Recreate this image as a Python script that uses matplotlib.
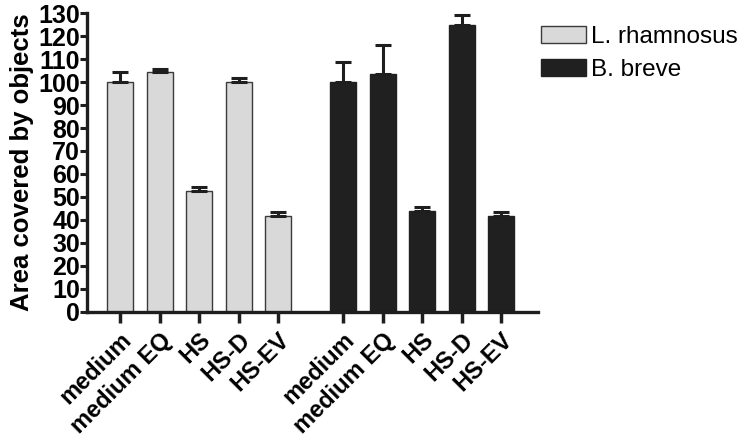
import numpy as np
import matplotlib
matplotlib.use('Agg')
import matplotlib.pyplot as plt

plt.rcParams['font.family'] = ['Liberation Sans', 'DejaVu Sans']

conditions = ['medium', 'medium EQ', 'HS', 'HS-D', 'HS-EV']
rhamnosus_mean = [100, 104.2, 52.4, 99.9, 41.6]
rhamnosus_sem = [4.6, 1.6, 2.1, 1.7, 1.8]
breve_mean = [100, 103.7, 44.0, 124.8, 41.6]
breve_sem = [8.8, 12.3, 1.4, 4.6, 1.9]

fig = plt.figure(figsize=(7.45, 4.37), dpi=100)
ax = fig.add_axes([0.1168, 0.2867, 0.605, 0.683])

gap = 0.65
x1 = np.arange(len(conditions))
x2 = x1 + len(conditions) + gap
width = 0.66

err_kw = dict(ecolor='#1e1e1e', elinewidth=2.2, capsize=6, capthick=2.2)
ax.bar(x1, rhamnosus_mean, width, color='#d9d9d9', edgecolor='#3a3a3a',
       linewidth=1, label='L. rhamnosus',
       yerr=[np.zeros(5), rhamnosus_sem], error_kw=err_kw, zorder=2)
ax.bar(x2, breve_mean, width, color='#202020', edgecolor='#202020',
       linewidth=1, label='B. breve',
       yerr=[np.zeros(5), breve_sem], error_kw=err_kw, zorder=2)

ax.set_xlim(-0.84, x2[-1] + 0.93)
ax.set_ylim(0, 130)
ax.set_yticks(range(0, 131, 10))
ax.set_xticks(np.concatenate([x1, x2]))
ax.set_xticklabels(conditions + conditions, rotation=45, ha='right',
                   rotation_mode='anchor', fontsize=17, fontweight='bold')
for lab in ax.get_yticklabels():
    lab.set_fontsize(18)
    lab.set_fontweight('bold')
ax.tick_params(axis='y', length=5, width=2.2, pad=0, color='#1e1e1e')
ax.tick_params(axis='x', length=8, width=2.5, pad=4, color='#1e1e1e')

ax.set_ylabel('Area covered by objects', fontsize=18.5, fontweight='bold',
              labelpad=3)
for side in ['top', 'right']:
    ax.spines[side].set_visible(False)
for side in ['left', 'bottom']:
    ax.spines[side].set_linewidth(2.4)
    ax.spines[side].set_color('#1e1e1e')

ax.legend(loc='upper left', bbox_to_anchor=(1.0, 0.97), frameon=False,
          fontsize=17.5, handlelength=1.85, handleheight=0.7,
          handletextpad=0.2, labelspacing=0.45, borderaxespad=0.05,
          borderpad=0.1)

fig.savefig('out.png', dpi=100)
